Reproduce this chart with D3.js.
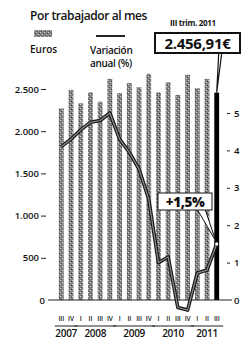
<!DOCTYPE html>
<html>
<head>
<meta charset="utf-8">
<script src="https://cdn.jsdelivr.net/npm/d3@7"></script>
<style>
  body { margin: 0; background: #fff; }
  svg text { font-family: "Open Sans", sans-serif; fill: #111; }
  .axis .domain { display: none; }
  .axis text { font-size: 9.5px; font-weight: 600; }
</style>
</head>
<body>
<div id="chart"></div>
<script>
// Quarter labels and the year each one belongs to
const quarters = ['III', 'IV', 'I', 'II', 'III', 'IV', 'I', 'II', 'III', 'IV', 'I', 'II', 'III', 'IV', 'I', 'II', 'III'];
const years = ['2007', '2007', '2008', '2008', '2008', '2008', '2009', '2009', '2009', '2009',
  '2010', '2010', '2010', '2010', '2011', '2011', '2011'];

// Labour cost per worker, euros per month (bars)
const euros = [2270, 2490, 2330, 2460, 2350, 2620, 2450, 2570, 2520, 2680,
  2460, 2580, 2430, 2670, 2510, 2620, 2456.91];

// Annual variation, % (line)
const variation = [4.1, 4.3, 4.55, 4.75, 4.8, 5.0, 4.3, 3.95, 3.5, 2.7,
  1.0, 1.15, -0.2, -0.27, 0.72, 0.8, 1.5];

const leftTicks = [0, 500, 1000, 1500, 2000, 2500];
const rightTicks = [0, 1, 2, 3, 4, 5];

const width = 243, height = 341;
const keys = quarters.map((q, i) => years[i] + '-' + q);

const svg = d3.select('#chart').append('svg')
  .attr('width', width)
  .attr('height', height);

// Stippled grey texture for the bars
const pat = svg.append('defs').append('pattern')
  .attr('id', 'stipple')
  .attr('width', 4).attr('height', 4)
  .attr('patternUnits', 'userSpaceOnUse');
pat.append('rect').attr('width', 4).attr('height', 4).attr('fill', '#808080');
pat.append('rect').attr('x', 0).attr('y', 0).attr('width', 1).attr('height', 1).attr('fill', '#cfcfcf');
pat.append('rect').attr('x', 2).attr('y', 2).attr('width', 1).attr('height', 1).attr('fill', '#d8d8d8');
pat.append('rect').attr('x', 3).attr('y', 1).attr('width', 1).attr('height', 1).attr('fill', '#404040');
pat.append('rect').attr('x', 1).attr('y', 3).attr('width', 1).attr('height', 1).attr('fill', '#555');

const x = d3.scaleBand()
  .domain(keys)
  .range([54, 224])
  .padding(0.5);

const yLeft = d3.scaleLinear().domain([0, 2500]).range([300, 89]);
const yRight = d3.scaleLinear().domain([0, 5]).range([300, 113]);

// Header texts
svg.append('text')
  .attr('x', 30).attr('y', 20)
  .style('font-size', '12px').style('font-weight', 600)
  .style('letter-spacing', '-0.4px')
  .text('Por trabajador al mes');

svg.append('text')
  .attr('x', 170).attr('y', 26)
  .style('font-size', '8px').style('font-weight', 700)
  .style('letter-spacing', '-0.3px')
  .text('III trim. 2011');

// Legend
svg.append('rect')
  .attr('x', 34).attr('y', 30).attr('width', 18).attr('height', 7)
  .attr('fill', 'url(#stipple)');
svg.append('text')
  .attr('x', 30).attr('y', 53)
  .style('font-size', '10px').style('font-weight', 600)
  .text('Euros');

svg.append('line')
  .attr('x1', 96).attr('x2', 125).attr('y1', 36).attr('y2', 36)
  .attr('stroke', '#222').attr('stroke-width', 2);
svg.append('text')
  .attr('x', 90).attr('y', 54)
  .style('font-size', '10px').style('font-weight', 600)
  .style('letter-spacing', '-0.3px')
  .text('Variación');
svg.append('text')
  .attr('x', 90).attr('y', 67)
  .style('font-size', '10px').style('font-weight', 600)
  .style('letter-spacing', '-0.3px')
  .text('anual (%)');

// Bars
svg.append('g')
  .selectAll('rect')
  .data(euros)
  .join('rect')
    .attr('x', (d, i) => x(keys[i]))
    .attr('y', d => yLeft(d))
    .attr('width', x.bandwidth())
    .attr('height', d => yLeft(0) - yLeft(d))
    .attr('fill', (d, i) => i === euros.length - 1 ? '#000' : 'url(#stipple)');

// Baseline
svg.append('line')
  .attr('x1', 48).attr('x2', 232)
  .attr('y1', yLeft(0)).attr('y2', yLeft(0))
  .attr('stroke', '#222').attr('stroke-width', 1);

// Left axis
const leftAxis = svg.append('g')
  .attr('class', 'axis')
  .attr('transform', 'translate(46,0)')
  .call(d3.axisLeft(yLeft)
    .tickValues(leftTicks)
    .tickFormat(d => d3.format(',')(d).replace(/,/g, '.'))
    .tickSize(5)
    .tickPadding(2));
leftAxis.selectAll('.tick line').attr('stroke', '#222');
leftAxis.selectAll('.tick').filter(d => d === 0).select('line').remove();
leftAxis.selectAll('.tick').filter(d => d === 0).select('text').attr('x', -1);

// Right axis
const rightAxis = svg.append('g')
  .attr('class', 'axis')
  .attr('transform', 'translate(227,0)')
  .call(d3.axisRight(yRight)
    .tickValues(rightTicks)
    .tickFormat(d3.format('d'))
    .tickSize(3)
    .tickPadding(4));
rightAxis.selectAll('.tick line').attr('stroke', '#222');
rightAxis.selectAll('.tick text').style('font-size', '9.5px');
rightAxis.selectAll('.tick').filter(d => d === 0).select('line').remove();

// Variation line: dark edge with a lighter core
const line = d3.line()
  .x((d, i) => x(keys[i]) + x.bandwidth() / 2)
  .y(d => yRight(d));

svg.append('path')
  .datum(variation)
  .attr('d', line)
  .attr('fill', 'none')
  .attr('stroke', '#1a1a1a')
  .attr('stroke-width', 3.6)
  .attr('stroke-linejoin', 'round');
svg.append('path')
  .datum(variation)
  .attr('d', line)
  .attr('fill', 'none')
  .attr('stroke', '#8a8a8a')
  .attr('stroke-width', 1.2)
  .attr('stroke-linejoin', 'round');

// End point marker
const lastX = x(keys[keys.length - 1]) + x.bandwidth() / 2;
const lastY = yRight(variation[variation.length - 1]);
svg.append('circle')
  .attr('cx', lastX).attr('cy', lastY).attr('r', 1.6)
  .attr('fill', '#fff');

// Callout: last euro value
const barTop = yLeft(euros[euros.length - 1]);
svg.append('path')
  .attr('d', `M${lastX + 2},53 L${lastX + 5},53 L${lastX},${barTop} Z`)
  .attr('fill', '#fff').attr('stroke', '#111').attr('stroke-width', 1.2);
svg.append('rect')
  .attr('x', 155).attr('y', 33).attr('width', 85).attr('height', 20)
  .attr('fill', '#fff').attr('stroke', '#111').attr('stroke-width', 2);
svg.append('text')
  .attr('x', 197.5).attr('y', 49)
  .attr('text-anchor', 'middle')
  .style('font-size', '15px').style('font-weight', 700)
  .style('letter-spacing', '-0.3px')
  .text('2.456,91€');

// Callout: last variation
svg.append('path')
  .attr('d', `M197,209 L205,209 L${lastX - 1},${lastY - 3} Z`)
  .attr('fill', '#fff').attr('stroke', '#111').attr('stroke-width', 1);
svg.append('rect')
  .attr('x', 158).attr('y', 193).attr('width', 54).attr('height', 17)
  .attr('fill', '#fff').attr('stroke', '#111').attr('stroke-width', 1);
svg.append('text')
  .attr('x', 185).attr('y', 207)
  .attr('text-anchor', 'middle')
  .style('font-size', '13.5px').style('font-weight', 800)
  .style('letter-spacing', '-0.4px')
  .text('+1,5%');

// Quarter labels
svg.append('g')
  .selectAll('text')
  .data(quarters)
  .join('text')
    .attr('x', (d, i) => x(keys[i]) + x.bandwidth() / 2)
    .attr('y', 321)
    .attr('text-anchor', 'middle')
    .style('font-size', '6.5px')
    .style('font-weight', 600)
    .style('letter-spacing', '-0.1px')
    .text(d => d);

// Year groups: rule above and year label below
const yearGroups = d3.groups(keys, k => k.split('-')[0]);
const yg = svg.append('g')
  .selectAll('g')
  .data(yearGroups)
  .join('g');
yg.append('line')
  .attr('x1', d => x(d[1][0]) - 4)
  .attr('x2', d => x(d[1][d[1].length - 1]) + x.bandwidth() + 4)
  .attr('y1', 326).attr('y2', 326)
  .attr('stroke', '#222').attr('stroke-width', 1);
yg.append('text')
  .attr('x', d => (x(d[1][0]) + x(d[1][d[1].length - 1]) + x.bandwidth()) / 2)
  .attr('y', 337)
  .attr('text-anchor', 'middle')
  .style('font-size', '10px')
  .style('font-weight', 600)
  .style('letter-spacing', '-0.3px')
  .text(d => d[0]);
</script>
</body>
</html>
